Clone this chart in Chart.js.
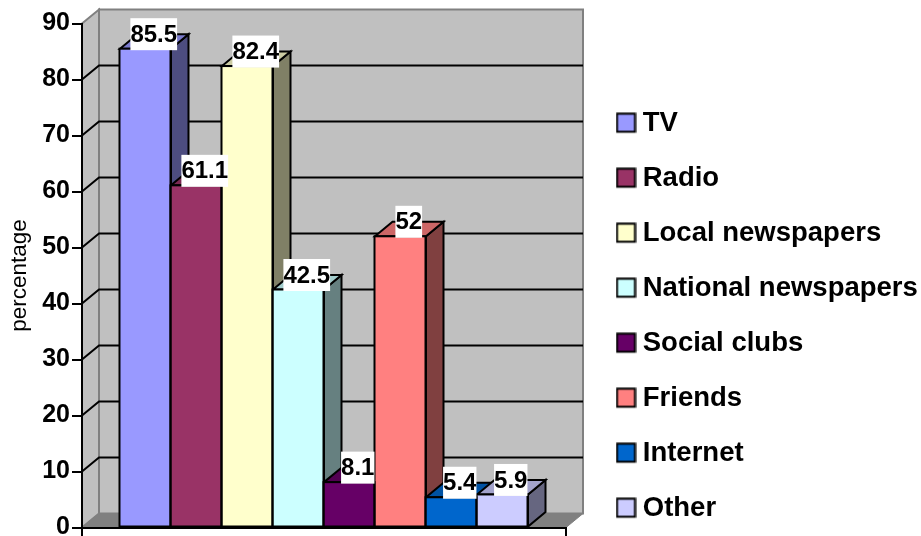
<!DOCTYPE html>
<html>
<head>
<meta charset="utf-8">
<style>html,body{margin:0;padding:0;background:#fff}canvas{display:block}</style>
<script src="https://cdn.jsdelivr.net/npm/chart.js@4"></script>
</head>
<body>
<canvas id="c" width="921" height="536"></canvas>
<script>
const categories = ['Sources'];
const seriesNames = ['TV','Radio','Local newspapers','National newspapers','Social clubs','Friends','Internet','Other'];
const seriesValues = [85.5,61.1,82.4,42.5,8.1,52,5.4,5.9];
const seriesColors = ['#9999ff','#993366','#ffffcc','#ccffff','#660066','#ff8080','#0066cc','#ccccff'];
const yTicks = {min:0,max:90,step:10};
const axisTitle = 'percentage';
const FONT = '"Liberation Sans", Arial, sans-serif';

const depth = {x:17.5,y:14.5};
const wallDepth = {x:17,y:14};

function shade(hex,f){
  const n=parseInt(hex.slice(1),16);
  const c=[(n>>16)&255,(n>>8)&255,n&255].map(v=>Math.round(v*f));
  return `rgb(${c[0]},${c[1]},${c[2]})`;
}
function poly(ctx,pts,fill,stroke,lw){
  ctx.beginPath();
  pts.forEach((p,i)=>i?ctx.lineTo(p[0],p[1]):ctx.moveTo(p[0],p[1]));
  ctx.closePath();
  if(fill){ctx.fillStyle=fill;ctx.fill();}
  if(stroke){ctx.strokeStyle=stroke;ctx.lineWidth=lw;ctx.lineJoin='miter';ctx.stroke();}
}
function legendSwatch(color){
  const cv=document.createElement('canvas');cv.width=21;cv.height=23;
  const g=cv.getContext('2d');
  g.fillStyle=color;g.fillRect(1,1,19,19);
  g.strokeStyle='#000';g.lineWidth=2;g.strokeRect(1.5,1.5,18,18);
  return cv;
}
const swatches=seriesColors.map(legendSwatch);

const chart3d={
  id:'chart3d',
  afterLayout(chart){
    chart.legend.left=595.5;
    chart.legend.right=921;
    chart.legend.top=82.5;
    chart.legend.bottom=600;
  },
  beforeDraw(chart){
    const {ctx,chartArea:a,scales:{y}}=chart;
    const dx=wallDepth.x,dy=wallDepth.y;
    ctx.save();
    ctx.fillStyle='#fff';ctx.fillRect(0,0,chart.width,chart.height);
    const top=a.top,bot=a.bottom,l=a.left,r=a.right;
    poly(ctx,[[l,top],[l+dx,top-dy],[l+dx,bot-dy],[l,bot]],'#c0c0c0','#808080',2);
    poly(ctx,[[l+dx,top-dy],[r+dx,top-dy],[r+dx,bot-dy],[l+dx,bot-dy]],'#c0c0c0','#808080',2);
    poly(ctx,[[l,bot],[l+dx,bot-dy],[r+dx,bot-dy],[r,bot]],'#808080','#808080',1);
    ctx.strokeStyle='#000';ctx.lineWidth=2;
    y.ticks.forEach(t=>{
      if(t.value<=yTicks.min||t.value>=yTicks.max)return;
      const p=y.getPixelForValue(t.value);
      ctx.beginPath();ctx.moveTo(l,p);ctx.lineTo(l+dx,p-dy);ctx.lineTo(r+dx,p-dy);ctx.stroke();
    });
    ctx.restore();
  },
  beforeDatasetsDraw(chart){
    const {ctx}=chart;
    ctx.save();
    seriesNames.forEach((_,i)=>{
      const b=chart.getDatasetMeta(i).data[0];
      const L=b.x-b.width/2,R=b.x+b.width/2,T=b.y,B=b.base,dx=depth.x,dy=depth.y,c=seriesColors[i];
      poly(ctx,[[R,T],[R+dx,T-dy],[R+dx,B-dy],[R,B]],shade(c,0.5),'#000',2);
      poly(ctx,[[L,T],[L+dx,T-dy],[R+dx,T-dy],[R,T]],shade(c,0.8),'#000',2);
    });
    ctx.restore();
  },
  afterDatasetsDraw(chart){
    const {ctx}=chart;
    ctx.save();
    seriesNames.forEach((_,i)=>{
      const b=chart.getDatasetMeta(i).data[0];
      ctx.strokeStyle='#000';ctx.lineWidth=2;ctx.lineJoin='miter';
      ctx.strokeRect(b.x-b.width/2-0.5,b.y,b.width,b.base-b.y);
    });
    ctx.font='bold 24px '+FONT;
    ctx.textAlign='center';ctx.textBaseline='middle';
    seriesNames.forEach((_,i)=>{
      const b=chart.getDatasetMeta(i).data[0];
      const txt=String(seriesValues[i]);
      const w=ctx.measureText(txt).width,h=32;
      const cx=b.x+depth.x/2-0.5,cy=b.y-depth.y;
      ctx.fillStyle='#fff';ctx.fillRect(cx-w/2,cy-h/2,w,h);
      ctx.fillStyle='#000';ctx.fillText(txt,cx,cy+1);
    });
    ctx.restore();
  }
};

new Chart(document.getElementById('c'),{
  type:'bar',
  data:{
    labels:categories,
    datasets:seriesNames.map((n,i)=>({
      label:n,
      data:[seriesValues[i]],
      backgroundColor:seriesColors[i],
      borderWidth:0,
      categoryPercentage:0.843,
      barPercentage:1
    }))
  },
  options:{
    responsive:false,
    animation:false,
    layout:{padding:{top:23.5,left:0,right:23,bottom:0}},
    plugins:{
      tooltip:{enabled:false},
      legend:{
        position:'right',
        align:'start',
        maxWidth:332,
        labels:{
          usePointStyle:true,
          pointStyleWidth:6,
          boxHeight:27,
          padding:27.5,
          color:'#000',
          font:{family:FONT,size:27.5,weight:'bold'},
          generateLabels(){
            return seriesNames.map((n,i)=>({text:n,pointStyle:swatches[i],fillStyle:seriesColors[i],strokeStyle:'#000',lineWidth:2,datasetIndex:i,fontColor:'#000'}));
          }
        }
      }
    },
    scales:{
      x:{
        ticks:{display:false},
        border:{display:true,color:'#000',width:2},
        grid:{display:true,drawOnChartArea:false,drawTicks:true,tickLength:9,color:'#000',lineWidth:2,offset:true},
        afterFit(s){s.height=8.5;s.paddingLeft=0;s.paddingRight=0;}
      },
      y:{
        min:yTicks.min,max:yTicks.max,
        ticks:{stepSize:yTicks.step,color:'#000',font:{family:FONT,size:25,weight:'bold'},padding:2},
        border:{display:true,color:'#000',width:2},
        grid:{display:true,drawOnChartArea:false,drawTicks:true,tickLength:10,color:'#000',lineWidth:2},
        title:{display:true,text:axisTitle,color:'#000',font:{family:FONT,size:22.5},padding:{top:6,bottom:0}},
        afterFit(s){s.width=82;s.paddingTop=0;s.paddingBottom=0;}
      }
    }
  },
  plugins:[chart3d]
});
</script>
</body>
</html>
